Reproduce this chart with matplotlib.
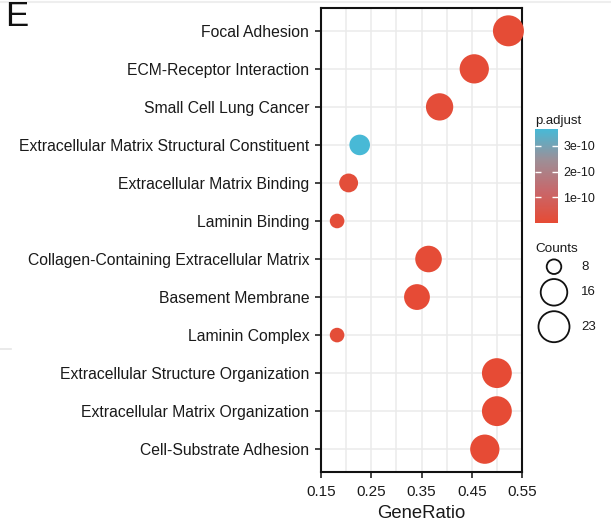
import numpy as np
import matplotlib
matplotlib.use('Agg')
import matplotlib.pyplot as plt
from matplotlib.colors import LinearSegmentedColormap, Normalize

# 數據
terms = [
    'Focal Adhesion',
    'ECM-Receptor Interaction',
    'Small Cell Lung Cancer',
    'Extracellular Matrix Structural Constituent',
    'Extracellular Matrix Binding',
    'Laminin Binding',
    'Collagen-Containing Extracellular Matrix',
    'Basement Membrane',
    'Laminin Complex',
    'Extracellular Structure Organization',
    'Extracellular Matrix Organization',
    'Cell-Substrate Adhesion',
]
gene_ratio = [0.523, 0.455, 0.386, 0.227, 0.205, 0.182, 0.364, 0.341, 0.182, 0.500, 0.500, 0.476]
counts = [23, 20, 17, 10, 9, 8, 16, 15, 8, 21, 21, 20]
p_adjust = [5.2e-12, 8.9e-12, 1.1e-11, 3.64e-10, 1.4e-11, 1.2e-11,
            6.5e-12, 4.4e-12, 1.0e-11, 2.0e-12, 2.0e-12, 3.3e-12]
x_ticks = [0.15, 0.25, 0.35, 0.45, 0.55]
count_breaks = [8, 16, 23]
p_breaks = [1e-10, 2e-10, 3e-10]

plt.rcParams['font.family'] = ['Liberation Sans', 'DejaVu Sans']

W, H, DPI = 611, 523, 100
fig = plt.figure(figsize=(W / DPI, H / DPI), dpi=DPI)

# ggplot 風格的尺寸映射: 半徑 ~ sqrt(rescale(count))
r_min, r_max = 7.3, 15.5
c_lo, c_hi = min(counts), max(counts)

def radius_px(c):
    return r_min + np.sqrt((c - c_lo) / (c_hi - c_lo)) * (r_max - r_min)

def area_pt(c):
    r_pt = radius_px(np.asarray(c, dtype=float)) * 72 / DPI
    return (2 * r_pt) ** 2

cmap = LinearSegmentedColormap.from_list('padj', ['#E64B35', '#C8676A', '#9E8E96', '#48B9D6'])
norm = Normalize(vmin=min(p_adjust), vmax=max(p_adjust))

# 主圖
ax = fig.add_axes([321 / W, (H - 472) / H, 201 / W, 464 / H])
ypos = np.arange(len(terms))[::-1]
ax.set_xlim(0.15, 0.55)
ax.set_ylim(-0.6, len(terms) - 0.4)
ax.set_xticks(x_ticks)
ax.set_xticklabels([f'{v:.2f}' for v in x_ticks])
ax.set_xticks(np.arange(0.20, 0.55, 0.10), minor=True)
ax.set_yticks(ypos)
ax.set_yticklabels(terms)
ax.grid(True, which='both', color='#EBEBEB', linewidth=1.1)
ax.set_axisbelow(True)
ax.tick_params(axis='both', which='major', length=4, width=1.2, color='#222222',
               labelsize=11.3, labelcolor='#1a1a1a', pad=4.5)
ax.tick_params(axis='x', which='major', labelsize=11, pad=5)
ax.tick_params(axis='x', which='minor', length=0)
for s in ax.spines.values():
    s.set_linewidth(1.5)
    s.set_color('#111111')

ax.scatter(gene_ratio, ypos, s=area_pt(counts), c=p_adjust, cmap=cmap, norm=norm,
           linewidths=0, zorder=3, clip_on=False)
ax.set_xlabel('GeneRatio', fontsize=13.3, color='#1a1a1a', labelpad=5)

# 面板字母
fig.text(5 / W, 1 - 26 / H, 'E', fontsize=25, color='#111111', ha='left', va='baseline')

# 頂部淡線與左側殘影
fig.add_artist(plt.Line2D([0, 1], [1 - 2 / H, 1 - 2 / H], color='#EEEEEE', linewidth=1.5))
fig.add_artist(plt.Line2D([0, 11 / W], [1 - 349 / H, 1 - 349 / H], color='#E6E6E6', linewidth=1.2))

# 色條
cax = fig.add_axes([535 / W, (H - 222.7) / H, 22.7 / W, 93.4 / H])
cb = fig.colorbar(plt.cm.ScalarMappable(norm=norm, cmap=cmap), cax=cax)
cb.outline.set_visible(False)
cb.set_ticks(p_breaks)
cb.set_ticklabels(['1e-10', '2e-10', '3e-10'])
cax.tick_params(left=True, right=True, direction='in', color='white', length=4, width=1,
                labelsize=9, labelcolor='#1a1a1a', pad=4)
fig.text(535 / W, 1 - 124 / H, 'p.adjust', fontsize=9.5, color='#1a1a1a', ha='left', va='baseline')

# Counts 圖例
lax = fig.add_axes([0, 0, 1, 1])
lax.set_xlim(0, W)
lax.set_ylim(H, 0)
lax.axis('off')
fig.text(535 / W, 1 - 252 / H, 'Counts', fontsize=9.7, color='#1a1a1a', ha='left', va='baseline')
leg_y = [266.7, 292.3, 326.7]
lax.scatter([554] * len(count_breaks), leg_y, s=area_pt(count_breaks), facecolors='none',
            edgecolors='#111111', linewidths=1.3)
for yy, c in zip(leg_y, count_breaks):
    lax.text(581, yy, str(c), fontsize=9.5, color='#1a1a1a', ha='left', va='center')

fig.savefig('out.png', dpi=DPI)
